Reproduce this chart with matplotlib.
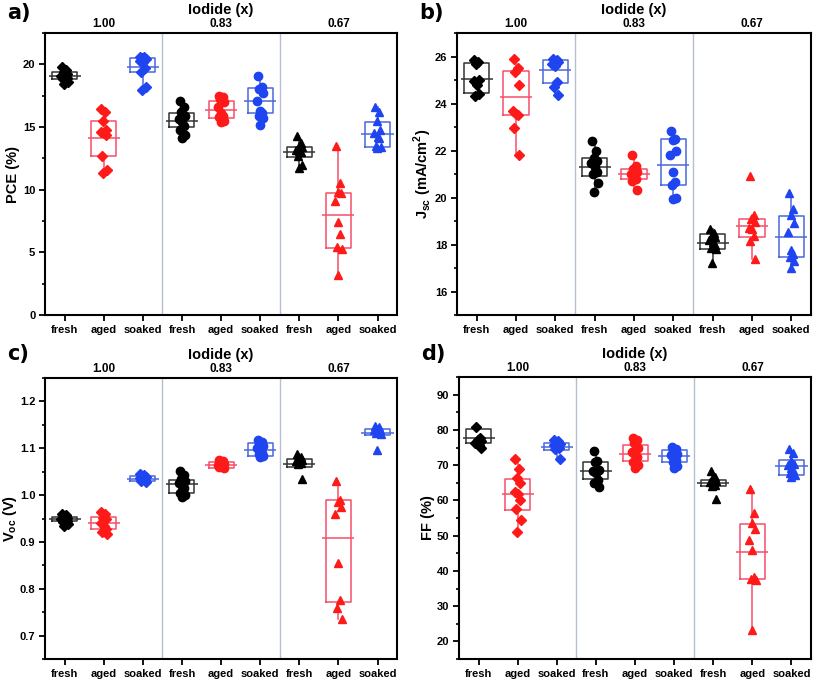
import numpy as np
import matplotlib
matplotlib.use('Agg')
import matplotlib.pyplot as plt
from matplotlib.ticker import MultipleLocator

plt.rcParams['font.family'] = ['Liberation Sans', 'DejaVu Sans']
plt.rcParams['font.weight'] = 'bold'
plt.rcParams['mathtext.fontset'] = 'custom'
plt.rcParams['mathtext.rm'] = 'Liberation Sans:bold'
plt.rcParams['mathtext.bf'] = 'Liberation Sans:bold'

# box order: 1.00 fresh/aged/soaked, 0.83 fresh/aged/soaked, 0.67 fresh/aged/soaked
conditions = ['fresh', 'aged', 'soaked'] * 3
iodide = ['1.00', '0.83', '0.67']

# ---- PCE (%) ----
pce_pts = [
    [19.75, 19.55, 19.4, 19.2, 19.1, 19.0, 18.9, 18.8, 18.6, 18.45],
    [16.4, 16.2, 15.5, 14.8, 14.6, 14.5, 14.4, 12.7, 11.6, 11.3],
    [20.6, 20.55, 20.5, 20.45, 20.3, 20.2, 19.7, 19.4, 18.2, 17.95],
    [17.1, 16.6, 16.2, 15.9, 15.6, 15.4, 15.1, 14.8, 14.4, 14.1],
    [17.5, 17.4, 17.2, 17.0, 16.6, 16.1, 15.9, 15.8, 15.5, 15.4],
    [19.1, 18.2, 18.0, 17.7, 17.1, 16.3, 16.1, 15.9, 15.7, 15.2],
    [14.3, 13.7, 13.5, 13.4, 13.2, 13.1, 13.0, 12.7, 12.0, 11.7],
    [13.5, 10.5, 9.8, 9.7, 9.1, 7.4, 6.5, 5.4, 5.3, 3.2],
    [16.6, 16.2, 15.5, 14.8, 14.5, 14.2, 14.1, 13.5, 13.4, 13.3],
]
pce_q1 = [18.83, 12.7, 19.37, 14.98, 15.7, 16.1, 12.63, 5.35, 13.38]
pce_med = [19.07, 14.1, 19.77, 15.5, 16.36, 17.08, 13.03, 7.98, 14.47]
pce_q3 = [19.37, 15.5, 20.49, 16.15, 17.1, 18.09, 13.43, 9.76, 15.43]

# ---- Jsc (mA/cm2) ----
jsc_pts = [
    [25.85, 25.75, 25.7, 25.0, 24.95, 24.8, 24.4, 24.3],
    [25.9, 25.5, 25.35, 24.8, 23.7, 23.55, 23.5, 22.95, 21.8],
    [25.9, 25.85, 25.8, 25.75, 25.7, 25.6, 24.9, 24.7, 24.35],
    [22.4, 22.0, 21.7, 21.55, 21.45, 21.3, 21.1, 21.0, 20.6, 20.25],
    [21.8, 21.35, 21.2, 21.1, 21.0, 20.9, 20.8, 20.7, 20.3],
    [22.85, 22.5, 22.45, 22.0, 21.8, 21.1, 20.65, 20.55, 20.0, 19.95],
    [18.65, 18.5, 18.4, 18.3, 18.2, 18.1, 18.0, 17.85, 17.8, 17.2],
    [20.9, 19.25, 19.1, 18.95, 18.7, 18.65, 18.35, 18.15, 17.4],
    [20.2, 19.5, 19.25, 18.9, 18.55, 17.75, 17.6, 17.45, 17.3, 17.0],
]
jsc_q1 = [24.44, 23.5, 24.89, 20.92, 20.78, 20.54, 17.83, 18.34, 17.45]
jsc_med = [25.03, 24.26, 25.42, 21.3, 20.99, 21.4, 18.06, 18.8, 18.32]
jsc_q3 = [25.71, 25.37, 25.86, 21.69, 21.2, 22.48, 18.43, 19.08, 19.22]

# ---- Voc (V) ----
voc_pts = [
    [0.96, 0.957, 0.955, 0.952, 0.95, 0.948, 0.945, 0.942, 0.938, 0.935],
    [0.965, 0.96, 0.952, 0.948, 0.94, 0.935, 0.928, 0.922, 0.918],
    [1.045, 1.042, 1.04, 1.038, 1.036, 1.035, 1.033, 1.031, 1.028],
    [1.052, 1.042, 1.035, 1.03, 1.025, 1.02, 1.015, 1.005, 1.0, 0.997],
    [1.075, 1.072, 1.069, 1.067, 1.065, 1.063, 1.061, 1.059, 1.057],
    [1.118, 1.113, 1.11, 1.105, 1.1, 1.095, 1.09, 1.087, 1.084, 1.082],
    [1.088, 1.082, 1.078, 1.075, 1.072, 1.07, 1.068, 1.066, 1.035],
    [1.03, 0.99, 0.985, 0.975, 0.96, 0.855, 0.775, 0.76, 0.735],
    [1.148, 1.145, 1.142, 1.14, 1.138, 1.136, 1.134, 1.132, 1.13, 1.097],
]
voc_q1 = [0.945, 0.927, 1.030, 1.005, 1.058, 1.084, 1.061, 0.772, 1.129]
voc_med = [0.949, 0.941, 1.035, 1.023, 1.064, 1.096, 1.066, 0.908, 1.132]
voc_q3 = [0.953, 0.953, 1.040, 1.033, 1.070, 1.111, 1.077, 0.990, 1.141]

# ---- FF (%) ----
ff_pts = [
    [80.7, 77.8, 77.2, 76.8, 76.3, 75.8, 75.0],
    [71.8, 69.0, 66.3, 65.0, 62.3, 61.8, 60.1, 57.5, 54.3, 51.0],
    [77.2, 76.8, 76.4, 76.0, 75.6, 75.2, 75.0, 74.6, 71.6],
    [74.0, 71.3, 70.8, 68.6, 68.2, 67.8, 65.8, 65.0, 63.8],
    [77.8, 77.0, 76.2, 74.8, 73.8, 73.0, 72.2, 71.0, 70.0, 69.3],
    [75.2, 74.6, 74.0, 73.2, 72.8, 72.4, 71.5, 70.8, 69.8, 69.3],
    [68.4, 66.5, 66.0, 65.5, 65.2, 64.8, 64.5, 64.2, 60.5],
    [63.2, 56.5, 53.5, 52.0, 48.8, 46.0, 38.3, 37.8, 37.5, 23.2],
    [74.7, 73.5, 71.2, 70.4, 69.9, 69.3, 68.5, 67.8, 67.2, 66.6],
]
ff_q1 = [76.3, 57.4, 74.4, 66.0, 71.2, 70.9, 64.0, 37.6, 67.3]
ff_med = [77.7, 61.7, 75.1, 68.3, 73.3, 72.7, 64.9, 45.4, 69.7]
ff_q3 = [80.3, 66.2, 76.4, 70.9, 75.6, 74.4, 65.9, 53.2, 71.4]

point_colors = ['#000000', '#ff1a1a', '#1f45f0']
box_colors = ['#333333', '#f5506a', '#4a68dd']
markers = ['D', 'o', '^']
marker_sizes = [5.2, 6.0, 6.3]
jitter = np.array([-0.06, 0.04, -0.02, 0.07, -0.08, 0.0, 0.05, -0.04, 0.08, -0.01])

panels = [
    ('a)', pce_pts, pce_q1, pce_med, pce_q3, 'PCE (%)', (0, 22.5), 5, 2.5,
     [0.0554, 0.5381, 0.4330, 0.4135], (7, 13), -0.071),
    ('b)', jsc_pts, jsc_q1, jsc_med, jsc_q3, r'J$_{\mathbf{sc}}$ (mA/cm$^{\mathbf{2}}$)', (15, 27), 2, 1,
     [0.5621, 0.5381, 0.4354, 0.4135], (419, 13), -0.066),
    ('c)', voc_pts, voc_q1, voc_med, voc_q3, r'V$_{\mathbf{oc}}$ (V)', (0.65, 1.25), 0.1, 0.05,
     [0.0554, 0.0337, 0.4330, 0.4120], (7, 354), -0.075),
    ('d)', ff_pts, ff_q1, ff_med, ff_q3, 'FF (%)', (15, 95), 10, 5,
     [0.5646, 0.0337, 0.4330, 0.4135], (421, 354), -0.068),
]

fig = plt.figure(figsize=(8.13, 6.82), dpi=100)
W, H = 813, 682

for label, pts, q1, med, q3, ylab, ylim, major, minor, rect, lpos, ylx in panels:
    ax = fig.add_axes(rect)
    positions = np.arange(1, 10)

    stats = []
    for i in range(9):
        v = np.array(pts[i])
        iqr = q3[i] - q1[i]
        inside = v[(v >= q1[i] - 1.5 * iqr) & (v <= q3[i] + 1.5 * iqr)]
        stats.append(dict(q1=q1[i], med=med[i], q3=q3[i],
                          whislo=min(inside.min(), q1[i]),
                          whishi=max(inside.max(), q3[i]), fliers=[]))

    for c in range(3):
        idx = [g * 3 + c for g in range(3)]
        col = box_colors[c]
        ax.bxp([stats[i] for i in idx], positions=positions[idx], widths=0.64,
               showcaps=False, showfliers=False,
               boxprops=dict(color=col, linewidth=1.1),
               whiskerprops=dict(color=col, linewidth=1.1),
               medianprops=dict(visible=False), manage_ticks=False)
        ax.hlines([med[i] for i in idx], positions[idx] - 0.41, positions[idx] + 0.41,
                  colors=col, linewidth=1.1, zorder=3)

    for i in range(9):
        v = np.array(pts[i])
        g, c = divmod(i, 3)
        ax.plot(positions[i] + jitter[:len(v)], v, linestyle='none',
                marker=markers[g], markersize=marker_sizes[g],
                color=point_colors[c], zorder=4)

    for xs in (3.5, 6.5):
        ax.axvline(xs, color='#b4c0d2', linewidth=1.0, zorder=1)

    ax.set_xlim(0.5, 9.5)
    ax.set_ylim(*ylim)
    ax.set_xticks(positions)
    ax.set_xticklabels(conditions, fontsize=7.8, fontweight='bold')
    ax.yaxis.set_major_locator(MultipleLocator(major))
    ax.yaxis.set_minor_locator(MultipleLocator(minor))
    if label == 'c)':
        ax.yaxis.set_major_formatter(matplotlib.ticker.FormatStrFormatter('%.1f'))
    ax.tick_params(axis='both', which='major', direction='out', length=4, width=1.3,
                   labelsize=8, pad=3)
    ax.tick_params(axis='y', which='minor', direction='out', length=2.5, width=1.2)
    for lab in ax.get_yticklabels():
        lab.set_fontweight('bold')
    for sp in ax.spines.values():
        sp.set_linewidth(1.5)

    ax.set_ylabel(ylab, fontsize=10.5, fontweight='bold')
    ax.yaxis.set_label_coords(ylx, 0.5)

    trans = ax.get_xaxis_transform()
    for g, name in enumerate(iodide):
        ax.text(g * 3 + 2, 1.02, name, transform=trans, ha='center', va='baseline',
                fontsize=8.5, fontweight='bold')
    ax.text(0.5, 1.068, 'Iodide (x)', transform=ax.transAxes, ha='center', va='baseline',
            fontsize=10.5, fontweight='bold')

    fig.text(lpos[0] / W, 1 - lpos[1] / H, label, ha='left', va='center',
             fontsize=15, fontweight='bold', family='DejaVu Sans')

fig.savefig('out.png', dpi=100)
